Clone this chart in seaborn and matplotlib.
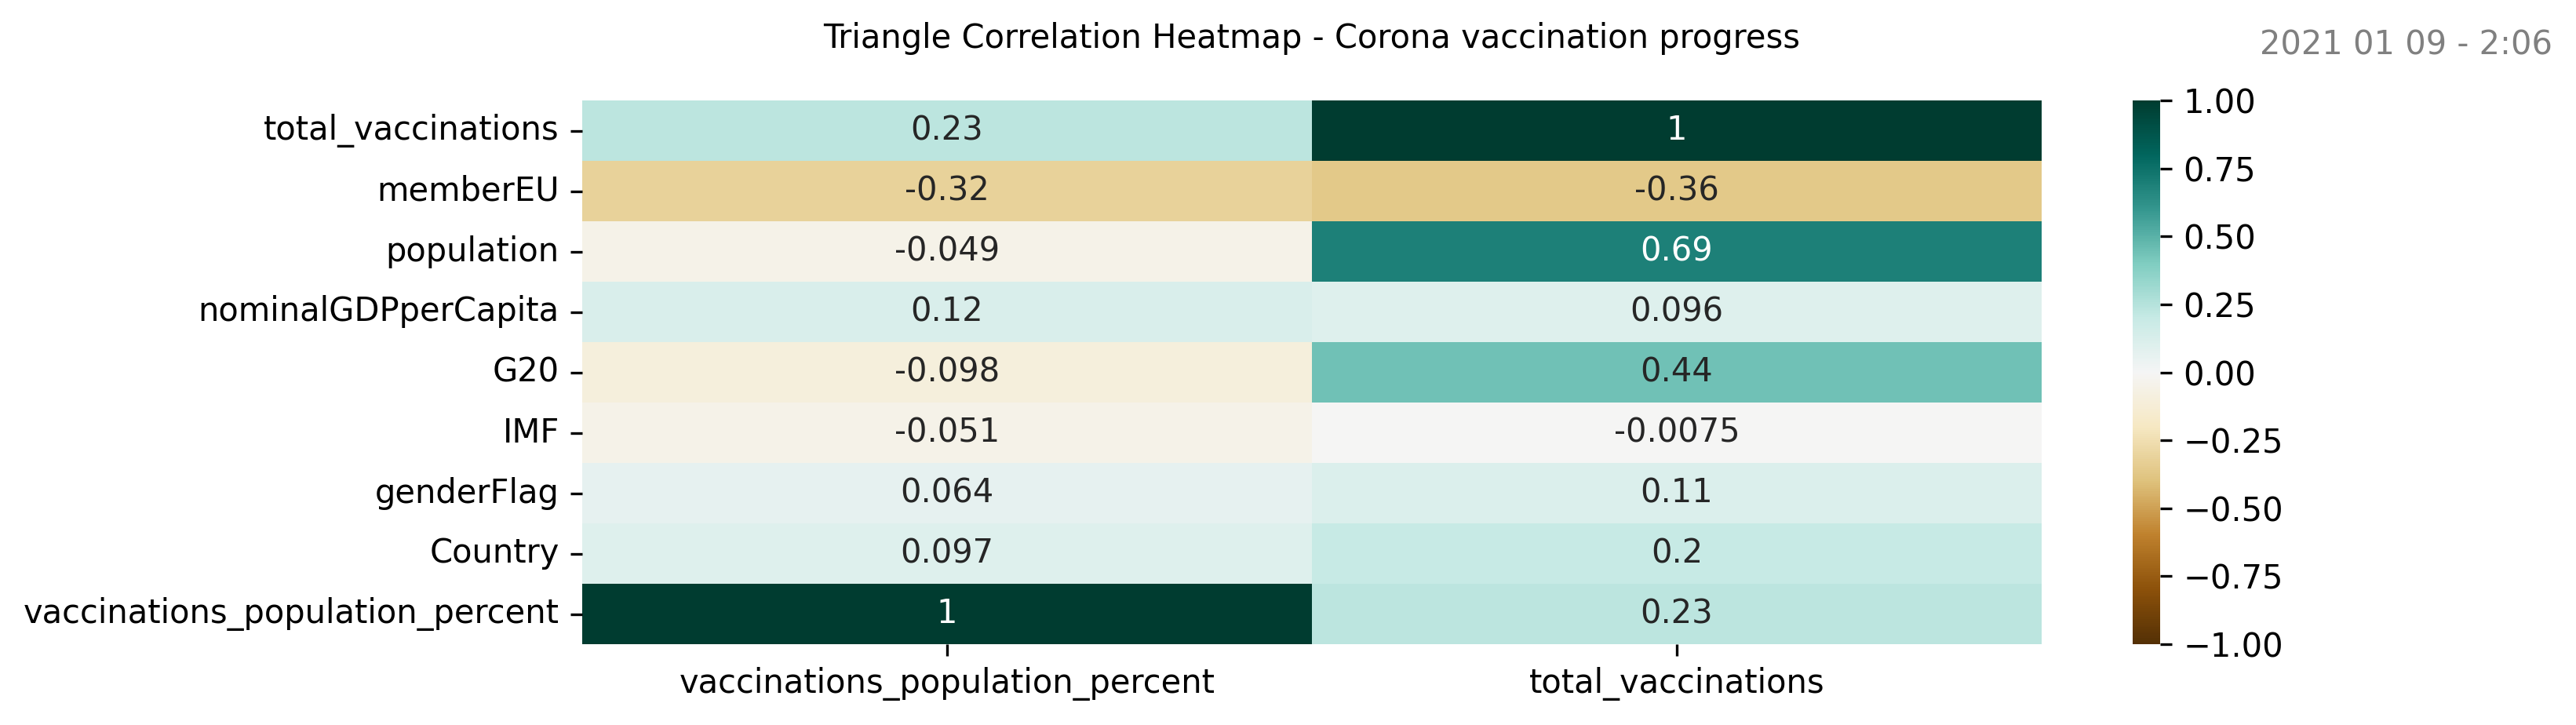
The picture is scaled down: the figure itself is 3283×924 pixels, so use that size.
import matplotlib
matplotlib.use("Agg")
import matplotlib.pyplot as plt
import seaborn as sns
import numpy as np
import pandas as pd

rows = ["total_vaccinations", "memberEU", "population", "nominalGDPperCapita",
        "G20", "IMF", "genderFlag", "Country", "vaccinations_population_percent"]
cols = ["vaccinations_population_percent", "total_vaccinations"]
vaccinations_population_percent = [0.23, -0.32, -0.049, 0.12, -0.098, -0.051, 0.064, 0.097, 1]
total_vaccinations = [1, -0.36, 0.69, 0.096, 0.44, -0.0075, 0.11, 0.2, 0.23]

df = pd.DataFrame({cols[0]: vaccinations_population_percent,
                   cols[1]: total_vaccinations}, index=rows)

fig = plt.figure(figsize=(3283/300, 924/300), dpi=300)
ax = fig.add_axes([742/3283, 1-821/924, (2602-742)/3283, (821-128)/924])
cax = fig.add_axes([2718/3283, 1-821/924, 35/3283, (821-128)/924])

sns.heatmap(df, ax=ax, cbar_ax=cax, cmap="BrBG", vmin=-1, vmax=1, annot=True,
            annot_kws={"fontsize": 10})
ax.set_title("Triangle Correlation Heatmap - Corona vaccination progress",
             fontsize=10, pad=16)
ax.tick_params(labelsize=10)
cax.tick_params(labelsize=10)
fig.text(3253/3283, 1-57/924, "2021 01 09 - 2:06", ha="right", va="center",
         color="gray", fontsize=10)

fig.savefig("out.png", dpi=300)
